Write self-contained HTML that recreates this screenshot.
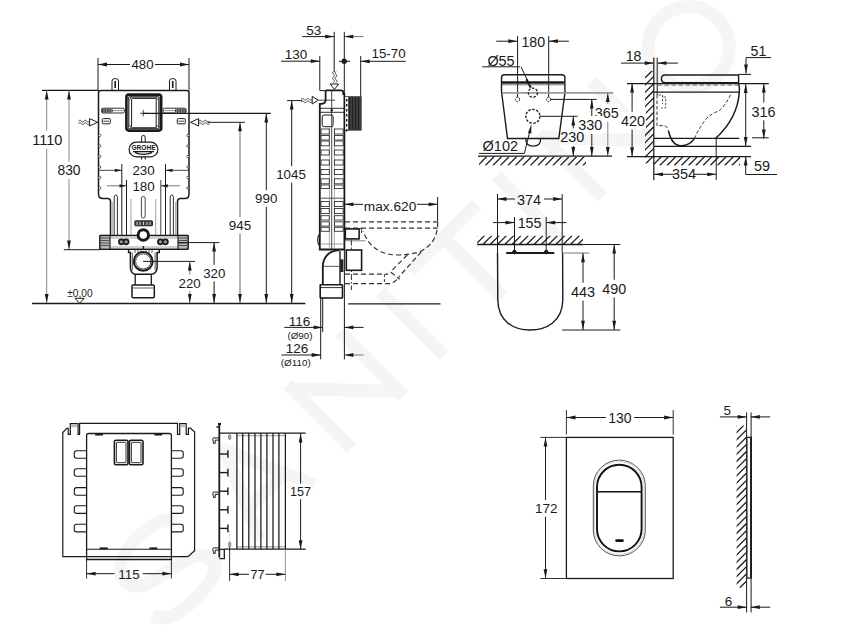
<!DOCTYPE html>
<html><head><meta charset="utf-8"><style>
html,body{margin:0;padding:0;background:#fff;}
svg{display:block;}
text{font-family:"Liberation Sans",sans-serif;}
</style></head><body>
<svg width="851" height="630" viewBox="0 0 851 630">
<rect width="851" height="630" fill="#fff"/>
<g transform="translate(720.6,79) rotate(-45)" fill="none" stroke="#f5f5f5" stroke-width="13">
<circle cx="0" cy="-45" r="40.5"/>
<path d="M-167,0 L-167,-90 M-167,-84 L-93,-6 M-93,0 L-93,-90"/>
<path d="M-227,0 L-227,-90"/>
<path d="M-308,0 L-308,-84 M-356,-84 L-261,-84"/>
<path d="M-391,0 L-391,-90"/>
<path d="M-522,0 L-522,-90 M-522,-84 L-448,-6 M-448,0 L-448,-90"/>
<path d="M-652,0 L-613,-88 L-574,0 M-638,-30 L-588,-30" stroke-linejoin="round"/>
<path d="M-698,-72 C-705,-86 -720,-88 -738,-88 C-760,-88 -776,-80 -776,-66 C-776,-50 -760,-47 -740,-43 C-718,-39 -700,-34 -700,-20 C-700,-6 -718,-4 -740,-4 C-760,-4 -775,-8 -782,-22"/>
</g>
<line x1="98" y1="58" x2="98" y2="90.5" stroke="#1a1a1a" stroke-width="1" />
<line x1="189" y1="58" x2="189" y2="90.5" stroke="#1a1a1a" stroke-width="1" />
<line x1="98" y1="64.5" x2="130" y2="64.5" stroke="#1a1a1a" stroke-width="1" />
<line x1="155" y1="64.5" x2="189" y2="64.5" stroke="#1a1a1a" stroke-width="1" />
<polygon points="98,64.5 107,62.6 107,66.4" fill="#1a1a1a" stroke="none" stroke-width="1"/>
<polygon points="189,64.5 180,62.6 180,66.4" fill="#1a1a1a" stroke="none" stroke-width="1"/>
<text x="142.5" y="69.46" font-size="13.3" text-anchor="middle" fill="#1a1a1a" >480</text>
<path d="M112,90.5 L112,81 Q112,78.5 115.2,78.5 Q118.5,78.5 118.5,81 L118.5,90.5" stroke="#1a1a1a" stroke-width="1" fill="none" />
<line x1="115.2" y1="81" x2="115.2" y2="88" stroke="#1a1a1a" stroke-width="1.6" />
<path d="M169.5,90.5 L169.5,81 Q169.5,78.5 172.7,78.5 Q176.0,78.5 176.0,81 L176.0,90.5" stroke="#1a1a1a" stroke-width="1" fill="none" />
<line x1="172.7" y1="81" x2="172.7" y2="88" stroke="#1a1a1a" stroke-width="1.6" />
<path d="M98.5,92.5 Q98.5,90.4 101,90.4 L186.5,90.4 Q189,90.4 189,92.5 L189,194 Q189,198.5 185,198.5 L180.5,198.5 Q177.5,198.5 177.5,201.5 L177.5,235.5 M98.5,92.5 L98.5,194 Q98.5,198.5 103,198.5 L107.5,198.5 Q110.5,198.5 110.5,201.5 L110.5,235.5" stroke="#1a1a1a" stroke-width="1.5" fill="none" />
<circle cx="99.6" cy="135.5" r="1.2" stroke="#1a1a1a" stroke-width="0.7" fill="#fff"/>
<circle cx="188" cy="135.5" r="1.2" stroke="#1a1a1a" stroke-width="0.7" fill="#fff"/>
<circle cx="99.6" cy="146" r="1.2" stroke="#1a1a1a" stroke-width="0.7" fill="#fff"/>
<circle cx="188" cy="146" r="1.2" stroke="#1a1a1a" stroke-width="0.7" fill="#fff"/>
<circle cx="99.6" cy="156.5" r="1.2" stroke="#1a1a1a" stroke-width="0.7" fill="#fff"/>
<circle cx="188" cy="156.5" r="1.2" stroke="#1a1a1a" stroke-width="0.7" fill="#fff"/>
<circle cx="99.6" cy="167" r="1.2" stroke="#1a1a1a" stroke-width="0.7" fill="#fff"/>
<circle cx="188" cy="167" r="1.2" stroke="#1a1a1a" stroke-width="0.7" fill="#fff"/>
<circle cx="99.6" cy="177.5" r="1.2" stroke="#1a1a1a" stroke-width="0.7" fill="#fff"/>
<circle cx="188" cy="177.5" r="1.2" stroke="#1a1a1a" stroke-width="0.7" fill="#fff"/>
<circle cx="99.6" cy="188" r="1.2" stroke="#1a1a1a" stroke-width="0.7" fill="#fff"/>
<circle cx="188" cy="188" r="1.2" stroke="#1a1a1a" stroke-width="0.7" fill="#fff"/>
<line x1="42" y1="90.4" x2="98.5" y2="90.4" stroke="#1a1a1a" stroke-width="1.3" />
<rect x="126.4" y="94.6" width="34.8" height="36" rx="2.5" stroke="#1a1a1a" stroke-width="2.6" fill="none" />
<rect x="128.6" y="96.8" width="30.4" height="31.6" rx="2" stroke="#555" stroke-width="1.8" fill="none" />
<rect x="131.6" y="98.4" width="24.6" height="29.4" rx="1" stroke="#1a1a1a" stroke-width="1" fill="#fff" />
<circle cx="129.6" cy="98" r="1.3" stroke="#1a1a1a" stroke-width="0.8" fill="#fff"/>
<circle cx="157.4" cy="98" r="1.3" stroke="#1a1a1a" stroke-width="0.8" fill="#fff"/>
<circle cx="129.6" cy="127.2" r="1.3" stroke="#1a1a1a" stroke-width="0.8" fill="#fff"/>
<circle cx="157.4" cy="127.2" r="1.3" stroke="#1a1a1a" stroke-width="0.8" fill="#fff"/>
<line x1="140" y1="113.3" x2="146.5" y2="113.3" stroke="#1a1a1a" stroke-width="0.8" />
<line x1="143.2" y1="110" x2="143.2" y2="116.5" stroke="#1a1a1a" stroke-width="0.8" />
<line x1="143.2" y1="113.4" x2="270.8" y2="113.4" stroke="#1a1a1a" stroke-width="1.2" />
<rect x="101.5" y="108.2" width="22.900000000000006" height="4.8" rx="1.5" stroke="#1a1a1a" stroke-width="0.9" fill="none" />
<line x1="102.5" y1="110.6" x2="123.4" y2="110.6" stroke="#666" stroke-width="0.7" />
<rect x="163.2" y="108.2" width="22.900000000000006" height="4.8" rx="1.5" stroke="#1a1a1a" stroke-width="0.9" fill="none" />
<line x1="164.2" y1="110.6" x2="185.1" y2="110.6" stroke="#666" stroke-width="0.7" />
<rect x="101.8" y="108.4" width="11" height="4.4" rx="1.5" stroke="#1a1a1a" stroke-width="0" fill="#4a4a4a" />
<rect x="175" y="108.4" width="11" height="4.4" rx="1.5" stroke="#1a1a1a" stroke-width="0" fill="#4a4a4a" />
<line x1="104" y1="108.5" x2="104" y2="112.7" stroke="#bbb" stroke-width="0.6" />
<line x1="106.5" y1="108.5" x2="106.5" y2="112.7" stroke="#bbb" stroke-width="0.6" />
<line x1="109" y1="108.5" x2="109" y2="112.7" stroke="#bbb" stroke-width="0.6" />
<line x1="111.5" y1="108.5" x2="111.5" y2="112.7" stroke="#bbb" stroke-width="0.6" />
<line x1="176.5" y1="108.5" x2="176.5" y2="112.7" stroke="#bbb" stroke-width="0.6" />
<line x1="179" y1="108.5" x2="179" y2="112.7" stroke="#bbb" stroke-width="0.6" />
<line x1="181.5" y1="108.5" x2="181.5" y2="112.7" stroke="#bbb" stroke-width="0.6" />
<line x1="184" y1="108.5" x2="184" y2="112.7" stroke="#bbb" stroke-width="0.6" />
<rect x="102.3" y="118.6" width="8" height="5.2" rx="1" stroke="#1a1a1a" stroke-width="1" fill="none" />
<line x1="103.5" y1="121.2" x2="109" y2="121.2" stroke="#1a1a1a" stroke-width="0.8" />
<rect x="177.3" y="118.6" width="8" height="5.2" rx="1" stroke="#1a1a1a" stroke-width="1" fill="none" />
<line x1="178.5" y1="121.2" x2="184" y2="121.2" stroke="#1a1a1a" stroke-width="0.8" />
<polygon points="97.6,122.3 89.6,118.6 89.6,126" fill="#fff" stroke="#1a1a1a" stroke-width="1"/>
<path d="M78.5,123.6 c2.5,-3 3,3 5.5,0 c2.5,-3 3,3 5.5,0 M78.5,121.1 c2.5,-3 3,3 5.5,0 c2.5,-3 3,3 5.5,0" stroke="#1a1a1a" stroke-width="0.8" fill="none" />
<polygon points="190.6,122.3 198.6,118.6 198.6,126" fill="#fff" stroke="#1a1a1a" stroke-width="1"/>
<path d="M198.6,123.6 c2.5,-3 3,3 5.5,0 c2.5,-3 3,3 5.5,0 M198.6,121.1 c2.5,-3 3,3 5.5,0 c2.5,-3 3,3 5.5,0" stroke="#1a1a1a" stroke-width="0.8" fill="none" />
<line x1="207.5" y1="122.3" x2="244.8" y2="122.3" stroke="#1a1a1a" stroke-width="1" />
<path d="M141.6,142.3 L141.6,137.2 Q141.6,135.4 143.4,135.4 Q145.2,135.4 145.2,137.2 L145.2,142.3" stroke="#1a1a1a" stroke-width="1" fill="none" />
<rect x="129.1" y="142.1" width="28.8" height="14.7" rx="7.3" stroke="#1a1a1a" stroke-width="1.2" fill="#fff" />
<text x="143.5" y="150.1" font-size="6.7" font-weight="bold" text-anchor="middle" fill="#111" textLength="24" lengthAdjust="spacingAndGlyphs">GROHE</text>
<path d="M133,151.6 L154,151.6 M135,152.6 Q143.5,156 152,152.6" stroke="#1a1a1a" stroke-width="1.2" fill="none" />
<line x1="141.6" y1="156.8" x2="141.6" y2="159.6" stroke="#1a1a1a" stroke-width="1" />
<line x1="145.2" y1="156.8" x2="145.2" y2="159.6" stroke="#1a1a1a" stroke-width="1" />
<line x1="98.5" y1="170.3" x2="121.8" y2="170.3" stroke="#1a1a1a" stroke-width="0.8" />
<polygon points="121.8,170.3 114.8,168.70000000000002 114.8,171.9" fill="#1a1a1a" stroke="none" stroke-width="1"/>
<line x1="165.5" y1="170.3" x2="189" y2="170.3" stroke="#1a1a1a" stroke-width="0.8" />
<polygon points="165.5,170.3 172.5,168.70000000000002 172.5,171.9" fill="#1a1a1a" stroke="none" stroke-width="1"/>
<line x1="121.8" y1="164" x2="121.8" y2="235.5" stroke="#1a1a1a" stroke-width="1" />
<line x1="165.5" y1="164" x2="165.5" y2="235.5" stroke="#1a1a1a" stroke-width="1" />
<text x="143.6" y="175.30" font-size="13.4" text-anchor="middle" fill="#1a1a1a" >230</text>
<line x1="107" y1="185.8" x2="126.5" y2="185.8" stroke="#555" stroke-width="0.8" />
<polygon points="126.5,185.8 119.5,184.20000000000002 119.5,187.4" fill="#1a1a1a" stroke="none" stroke-width="1"/>
<line x1="160.8" y1="185.8" x2="180" y2="185.8" stroke="#555" stroke-width="0.8" />
<polygon points="160.8,185.8 167.8,184.20000000000002 167.8,187.4" fill="#1a1a1a" stroke="none" stroke-width="1"/>
<line x1="126.5" y1="180" x2="126.5" y2="235.5" stroke="#1a1a1a" stroke-width="1" />
<line x1="160.8" y1="180" x2="160.8" y2="235.5" stroke="#444" stroke-width="1" />
<text x="143.6" y="190.80" font-size="13.4" text-anchor="middle" fill="#1a1a1a" >180</text>
<path d="M114.2,235.5 L114.2,197 Q114.2,195 115.8,195 Q117.4,195 117.4,197 L117.4,235.5" stroke="#1a1a1a" stroke-width="0.9" fill="none" />
<path d="M170.2,235.5 L170.2,197 Q170.2,195 171.79999999999998,195 Q173.39999999999998,195 173.39999999999998,197 L173.39999999999998,235.5" stroke="#1a1a1a" stroke-width="0.9" fill="none" />
<line x1="131" y1="199" x2="131" y2="235.5" stroke="#777" stroke-width="0.7" />
<line x1="155.7" y1="199" x2="155.7" y2="235.5" stroke="#777" stroke-width="0.7" />
<line x1="112.3" y1="202" x2="112.3" y2="235" stroke="#777" stroke-width="0.6" />
<line x1="175.5" y1="202" x2="175.5" y2="235" stroke="#777" stroke-width="0.6" />
<rect x="141.4" y="196.5" width="3.8" height="21.5" rx="1.9" stroke="#1a1a1a" stroke-width="0.8" fill="none" />
<rect x="134.8" y="220.8" width="17.7" height="5" rx="0.8" stroke="#1a1a1a" stroke-width="0.9" fill="#444" />
<line x1="137" y1="221.8" x2="137" y2="225" stroke="#ddd" stroke-width="0.9" />
<line x1="140" y1="221.8" x2="140" y2="225" stroke="#ddd" stroke-width="0.9" />
<line x1="143.5" y1="221.8" x2="143.5" y2="225" stroke="#ddd" stroke-width="0.9" />
<line x1="147" y1="221.8" x2="147" y2="225" stroke="#ddd" stroke-width="0.9" />
<line x1="150" y1="221.8" x2="150" y2="225" stroke="#ddd" stroke-width="0.9" />
<rect x="100" y="235.5" width="88" height="13.7" rx="1" stroke="#1a1a1a" stroke-width="1.6" fill="#fff" />
<rect x="100" y="235.5" width="10" height="13.7" rx="0" stroke="#1a1a1a" stroke-width="1.2" fill="#b8b8b8" />
<rect x="178" y="235.5" width="10" height="13.7" rx="0" stroke="#1a1a1a" stroke-width="1.2" fill="#b8b8b8" />
<line x1="101" y1="238" x2="109" y2="238" stroke="#333" stroke-width="0.8" />
<line x1="179" y1="238" x2="187" y2="238" stroke="#333" stroke-width="0.8" />
<line x1="101" y1="240.5" x2="109" y2="240.5" stroke="#333" stroke-width="0.8" />
<line x1="179" y1="240.5" x2="187" y2="240.5" stroke="#333" stroke-width="0.8" />
<line x1="101" y1="243" x2="109" y2="243" stroke="#333" stroke-width="0.8" />
<line x1="179" y1="243" x2="187" y2="243" stroke="#333" stroke-width="0.8" />
<line x1="101" y1="245.5" x2="109" y2="245.5" stroke="#333" stroke-width="0.8" />
<line x1="179" y1="245.5" x2="187" y2="245.5" stroke="#333" stroke-width="0.8" />
<line x1="110" y1="238" x2="178" y2="238" stroke="#666" stroke-width="0.6" />
<line x1="110" y1="247" x2="178" y2="247" stroke="#666" stroke-width="0.6" />
<circle cx="121.4" cy="241.8" r="2.5" stroke="#1a1a1a" stroke-width="1.7" fill="#999"/>
<circle cx="126.1" cy="241.8" r="2.5" stroke="#1a1a1a" stroke-width="1.7" fill="#999"/>
<circle cx="160.4" cy="241.8" r="2.5" stroke="#1a1a1a" stroke-width="1.7" fill="#999"/>
<circle cx="165.4" cy="241.8" r="2.5" stroke="#1a1a1a" stroke-width="1.7" fill="#999"/>
<circle cx="143.3" cy="235" r="5.2" stroke="#1a1a1a" stroke-width="3" fill="#fff"/>
<path d="M128.6,249.2 L128.6,252.5 L130.4,252.5 L130.4,268 Q131,274 136,274.3 L151,274.3 Q156.5,274 157.1,268 L157.1,252.5 L159.3,252.5 L159.3,249.2" stroke="#1a1a1a" stroke-width="1.5" fill="none" />
<line x1="132.4" y1="252.5" x2="132.4" y2="270" stroke="#1a1a1a" stroke-width="0.7" />
<line x1="155.1" y1="252.5" x2="155.1" y2="270" stroke="#1a1a1a" stroke-width="0.7" />
<line x1="135" y1="249.5" x2="135" y2="253" stroke="#1a1a1a" stroke-width="0.7" />
<line x1="138" y1="249.5" x2="138" y2="253" stroke="#1a1a1a" stroke-width="0.7" />
<line x1="141" y1="249.5" x2="141" y2="253" stroke="#1a1a1a" stroke-width="0.7" />
<line x1="146" y1="249.5" x2="146" y2="253" stroke="#1a1a1a" stroke-width="0.7" />
<line x1="149" y1="249.5" x2="149" y2="253" stroke="#1a1a1a" stroke-width="0.7" />
<line x1="152" y1="249.5" x2="152" y2="253" stroke="#1a1a1a" stroke-width="0.7" />
<line x1="143.4" y1="246" x2="143.4" y2="250" stroke="#1a1a1a" stroke-width="1.4" />
<circle cx="143.2" cy="261.4" r="9.4" stroke="#1a1a1a" stroke-width="2" fill="#fff"/>
<circle cx="143.2" cy="261.4" r="7.6" stroke="#1a1a1a" stroke-width="0.8" fill="none"/>
<line x1="143.2" y1="261.4" x2="195" y2="261.4" stroke="#1a1a1a" stroke-width="1" />
<line x1="135.2" y1="274" x2="135.2" y2="285" stroke="#1a1a1a" stroke-width="1.3" />
<line x1="151.3" y1="274" x2="151.3" y2="285" stroke="#1a1a1a" stroke-width="1.3" />
<rect x="132" y="285" width="22.3" height="12.8" rx="1.2" stroke="#1a1a1a" stroke-width="1.5" fill="#fff" />
<line x1="133" y1="288" x2="153" y2="288" stroke="#1a1a1a" stroke-width="0.7" />
<line x1="46.7" y1="90.6" x2="46.7" y2="303" stroke="#8a8a8a" stroke-width="1" />
<polygon points="46.7,90.6 44.800000000000004,99.6 48.6,99.6" fill="#1a1a1a" stroke="none" stroke-width="1"/>
<polygon points="46.7,303 44.800000000000004,294 48.6,294" fill="#1a1a1a" stroke="none" stroke-width="1"/>
<rect x="30.175999999999995" y="130.81" width="34.248000000000005" height="17.98" fill="#fff"/>
<text x="47.3" y="144.99" font-size="14.5" text-anchor="middle" fill="#1a1a1a" >1110</text>
<line x1="69" y1="90.6" x2="69" y2="249.6" stroke="#8a8a8a" stroke-width="1" />
<polygon points="69,90.6 67.1,99.6 70.9,99.6" fill="#1a1a1a" stroke="none" stroke-width="1"/>
<polygon points="69,249.6 67.1,240.6 70.9,240.6" fill="#1a1a1a" stroke="none" stroke-width="1"/>
<rect x="56.4908" y="161.744" width="25.018400000000003" height="17.112000000000002" fill="#fff"/>
<text x="69" y="175.24" font-size="13.8" text-anchor="middle" fill="#1a1a1a" >830</text>
<line x1="63.8" y1="249.7" x2="100" y2="249.7" stroke="#1a1a1a" stroke-width="1" />
<line x1="32" y1="303.5" x2="305.4" y2="303.5" stroke="#1a1a1a" stroke-width="1.3" />
<text x="80" y="297.25" font-size="10.2" text-anchor="middle" fill="#1a1a1a" >±0,00</text>
<path d="M75,298.3 L84.2,298.3 L79.6,303.3 Z" stroke="#1a1a1a" stroke-width="1" fill="#fff" />
<line x1="178" y1="242.6" x2="219.3" y2="242.6" stroke="#1a1a1a" stroke-width="1" />
<line x1="214.1" y1="242.4" x2="214.1" y2="303" stroke="#1a1a1a" stroke-width="1" />
<polygon points="214.1,242.4 212.2,251.4 216.0,251.4" fill="#1a1a1a" stroke="none" stroke-width="1"/>
<polygon points="214.1,303 212.2,294 216.0,294" fill="#1a1a1a" stroke="none" stroke-width="1"/>
<rect x="202.20780000000002" y="264.85400000000004" width="24.184400000000004" height="16.492" fill="#fff"/>
<text x="214.3" y="277.86" font-size="13.3" text-anchor="middle" fill="#1a1a1a" >320</text>
<line x1="189.8" y1="261.4" x2="189.8" y2="303" stroke="#777" stroke-width="1" />
<polygon points="189.8,261.4 187.9,270.4 191.70000000000002,270.4" fill="#1a1a1a" stroke="none" stroke-width="1"/>
<polygon points="189.8,303 187.9,294 191.70000000000002,294" fill="#1a1a1a" stroke="none" stroke-width="1"/>
<rect x="177.5078" y="274.55400000000003" width="24.184400000000004" height="16.492" fill="#fff"/>
<text x="189.6" y="287.56" font-size="13.3" text-anchor="middle" fill="#1a1a1a" >220</text>
<line x1="240" y1="122.3" x2="240" y2="303" stroke="#666" stroke-width="1" />
<polygon points="240,122.3 238.1,131.3 241.9,131.3" fill="#1a1a1a" stroke="none" stroke-width="1"/>
<polygon points="240,303 238.1,294 241.9,294" fill="#1a1a1a" stroke="none" stroke-width="1"/>
<rect x="227.8244" y="216.99200000000002" width="24.351200000000002" height="16.616" fill="#fff"/>
<text x="240" y="230.10" font-size="13.4" text-anchor="middle" fill="#1a1a1a" >945</text>
<line x1="266.3" y1="113.4" x2="266.3" y2="303" stroke="#1a1a1a" stroke-width="1" />
<polygon points="266.3,113.4 264.40000000000003,122.4 268.2,122.4" fill="#1a1a1a" stroke="none" stroke-width="1"/>
<polygon points="266.3,303 264.40000000000003,294 268.2,294" fill="#1a1a1a" stroke="none" stroke-width="1"/>
<rect x="254.1078" y="190.254" width="24.184400000000004" height="16.492" fill="#fff"/>
<text x="266.2" y="203.26" font-size="13.3" text-anchor="middle" fill="#1a1a1a" >990</text>
<line x1="291.7" y1="100.6" x2="291.7" y2="303" stroke="#1a1a1a" stroke-width="1" />
<polygon points="291.7,100.6 289.8,109.6 293.59999999999997,109.6" fill="#1a1a1a" stroke="none" stroke-width="1"/>
<polygon points="291.7,303 289.8,294 293.59999999999997,294" fill="#1a1a1a" stroke="none" stroke-width="1"/>
<rect x="275.2104" y="166.154" width="31.579200000000004" height="16.492" fill="#fff"/>
<text x="291" y="179.16" font-size="13.3" text-anchor="middle" fill="#1a1a1a" >1045</text>
<text x="313.8" y="35.23" font-size="13.5" text-anchor="middle" fill="#1a1a1a" >53</text>
<line x1="302.4" y1="36.6" x2="334.2" y2="36.6" stroke="#1a1a1a" stroke-width="1" />
<polygon points="334.2,36.6 325.2,34.7 325.2,38.5" fill="#1a1a1a" stroke="none" stroke-width="1"/>
<line x1="344.3" y1="36.6" x2="363.5" y2="36.6" stroke="#777" stroke-width="1" />
<polygon points="344.3,36.6 353.3,34.7 353.3,38.5" fill="#1a1a1a" stroke="none" stroke-width="1"/>
<line x1="334.2" y1="31.8" x2="334.2" y2="72" stroke="#1a1a1a" stroke-width="1" />
<line x1="344.3" y1="31.8" x2="344.3" y2="94" stroke="#1a1a1a" stroke-width="1" />
<text x="296" y="59.33" font-size="13.5" text-anchor="middle" fill="#1a1a1a" >130</text>
<line x1="281" y1="61.2" x2="319.8" y2="61.2" stroke="#1a1a1a" stroke-width="1" />
<polygon points="319.8,61.2 310.8,59.300000000000004 310.8,63.1" fill="#1a1a1a" stroke="none" stroke-width="1"/>
<line x1="319.8" y1="56" x2="319.8" y2="90.6" stroke="#1a1a1a" stroke-width="1" />
<line x1="319.8" y1="90.6" x2="325.6" y2="90.6" stroke="#1a1a1a" stroke-width="1" />
<circle cx="344.2" cy="61.3" r="2.7" stroke="#1a1a1a" stroke-width="0" fill="#1a1a1a"/>
<line x1="339" y1="61.3" x2="350" y2="61.3" stroke="#1a1a1a" stroke-width="1" />
<text x="388.6" y="58.46" font-size="13.3" text-anchor="middle" fill="#1a1a1a" >15-70</text>
<line x1="360.7" y1="56.1" x2="360.7" y2="96.5" stroke="#1a1a1a" stroke-width="1" />
<line x1="360.7" y1="61.3" x2="405.8" y2="61.3" stroke="#1a1a1a" stroke-width="1" />
<polygon points="360.7,61.3 369.7,59.4 369.7,63.199999999999996" fill="#1a1a1a" stroke="none" stroke-width="1"/>
<path d="M333.5,71.5 c-3,2.5 3,3 0,5.5 c-3,2.5 3,3 0,5.5 M336,71.5 c-3,2.5 3,3 0,5.5 c-3,2.5 3,3 0,5.5" stroke="#1a1a1a" stroke-width="0.8" fill="none" />
<polygon points="330.2,84 338.6,84 334.4,89.4" fill="#fff" stroke="#1a1a1a" stroke-width="1"/>
<line x1="287" y1="100.6" x2="302" y2="100.6" stroke="#1a1a1a" stroke-width="1" />
<path d="M301,101.8 c2.5,-3 3,3 5.5,0 c2.5,-3 3,3 5.5,0 M301,99.3 c2.5,-3 3,3 5.5,0 c2.5,-3 3,3 5.5,0" stroke="#1a1a1a" stroke-width="0.8" fill="none" />
<polygon points="318.2,100.2 312.2,96.4 312.2,104" fill="#fff" stroke="#1a1a1a" stroke-width="1"/>
<line x1="318.2" y1="100.2" x2="335" y2="100.2" stroke="#1a1a1a" stroke-width="0.8" />
<path d="M325.6,90.6 L325.6,100 Q325.6,103.9 321,103.9 L319.8,103.9 L319.8,249.5 L344.4,249.5 L344.4,94 L343.3,94 L343.3,92.5 Q343.3,90.3 341,90.3 L325.6,90.3" stroke="#1a1a1a" stroke-width="1.8" fill="none" />
<line x1="331.7" y1="90.5" x2="331.7" y2="249.5" stroke="#1a1a1a" stroke-width="0.8" />
<line x1="320" y1="108.3" x2="344" y2="108.3" stroke="#1a1a1a" stroke-width="0.9" />
<line x1="320" y1="112.3" x2="344" y2="112.3" stroke="#1a1a1a" stroke-width="0.9" />
<circle cx="331.7" cy="110.3" r="1.2" stroke="#1a1a1a" stroke-width="0" fill="#1a1a1a"/>
<rect x="322.2" y="115" width="10.9" height="11.7" rx="2" stroke="#1a1a1a" stroke-width="1" fill="none" />
<line x1="329.4" y1="128" x2="329.4" y2="249" stroke="#777" stroke-width="0.6" />
<line x1="334.4" y1="128" x2="334.4" y2="249" stroke="#777" stroke-width="0.6" />
<rect x="321" y="129" width="8.3" height="5" rx="0" stroke="#333" stroke-width="0.9" fill="none" />
<rect x="334.4" y="129" width="8.8" height="5" rx="0" stroke="#333" stroke-width="0.9" fill="none" />
<rect x="321" y="135.5" width="8.3" height="4.5" rx="0" stroke="#333" stroke-width="0.9" fill="none" />
<rect x="334.4" y="135.5" width="8.8" height="4.5" rx="0" stroke="#333" stroke-width="0.9" fill="none" />
<rect x="321" y="141" width="8.3" height="4.8" rx="0" stroke="#333" stroke-width="0.9" fill="none" />
<rect x="334.4" y="141" width="8.8" height="4.8" rx="0" stroke="#333" stroke-width="0.9" fill="none" />
<rect x="321" y="150" width="8.3" height="5" rx="0" stroke="#333" stroke-width="0.9" fill="none" />
<rect x="334.4" y="150" width="8.8" height="5" rx="0" stroke="#333" stroke-width="0.9" fill="none" />
<rect x="321" y="160" width="8.3" height="5" rx="0" stroke="#333" stroke-width="0.9" fill="none" />
<rect x="334.4" y="160" width="8.8" height="5" rx="0" stroke="#333" stroke-width="0.9" fill="none" />
<rect x="321" y="169.5" width="8.3" height="5" rx="0" stroke="#333" stroke-width="0.9" fill="none" />
<rect x="334.4" y="169.5" width="8.8" height="5" rx="0" stroke="#333" stroke-width="0.9" fill="none" />
<rect x="321" y="178.8" width="8.3" height="5" rx="0" stroke="#333" stroke-width="0.9" fill="none" />
<rect x="334.4" y="178.8" width="8.8" height="5" rx="0" stroke="#333" stroke-width="0.9" fill="none" />
<rect x="321" y="185" width="8.3" height="3.5" rx="0" stroke="#333" stroke-width="0.9" fill="none" />
<rect x="334.4" y="185" width="8.8" height="3.5" rx="0" stroke="#333" stroke-width="0.9" fill="none" />
<rect x="321" y="201.5" width="8.3" height="5" rx="0" stroke="#333" stroke-width="0.9" fill="none" />
<rect x="334.4" y="201.5" width="8.8" height="5" rx="0" stroke="#333" stroke-width="0.9" fill="none" />
<rect x="321" y="208.5" width="8.3" height="5" rx="0" stroke="#333" stroke-width="0.9" fill="none" />
<rect x="334.4" y="208.5" width="8.8" height="5" rx="0" stroke="#333" stroke-width="0.9" fill="none" />
<rect x="321" y="215.7" width="8.3" height="4.3" rx="0" stroke="#333" stroke-width="0.9" fill="none" />
<rect x="334.4" y="215.7" width="8.8" height="4.3" rx="0" stroke="#333" stroke-width="0.9" fill="none" />
<rect x="321" y="221.8" width="8.3" height="4.3" rx="0" stroke="#333" stroke-width="0.9" fill="none" />
<rect x="334.4" y="221.8" width="8.8" height="4.3" rx="0" stroke="#333" stroke-width="0.9" fill="none" />
<rect x="321" y="227.3" width="8.3" height="4" rx="0" stroke="#333" stroke-width="0.9" fill="none" />
<rect x="334.4" y="227.3" width="8.8" height="4" rx="0" stroke="#333" stroke-width="0.9" fill="none" />
<line x1="320" y1="198.2" x2="344" y2="198.2" stroke="#555" stroke-width="1" />
<path d="M320,234.5 Q317.6,234.8 317.8,239.9 Q317.8,245 320,245.3" stroke="#1a1a1a" stroke-width="1.2" fill="none" />
<line x1="320" y1="244" x2="344" y2="244" stroke="#777" stroke-width="0.7" />
<rect x="345" y="96.3" width="16.6" height="34.3" rx="0" stroke="#1a1a1a" stroke-width="0" fill="#222" />
<rect x="345.2" y="97" width="3" height="33" rx="0" stroke="#1a1a1a" stroke-width="0" fill="#fff" />
<line x1="346.7" y1="99" x2="346.7" y2="101.5" stroke="#1a1a1a" stroke-width="1.4" />
<line x1="346.7" y1="104" x2="346.7" y2="106.5" stroke="#1a1a1a" stroke-width="1.4" />
<line x1="346.7" y1="109" x2="346.7" y2="111.5" stroke="#1a1a1a" stroke-width="1.4" />
<line x1="346.7" y1="114" x2="346.7" y2="116.5" stroke="#1a1a1a" stroke-width="1.4" />
<line x1="346.7" y1="119" x2="346.7" y2="121.5" stroke="#1a1a1a" stroke-width="1.4" />
<line x1="346.7" y1="124" x2="346.7" y2="126.5" stroke="#1a1a1a" stroke-width="1.4" />
<line x1="346.7" y1="129" x2="346.7" y2="131.5" stroke="#1a1a1a" stroke-width="1.4" />
<line x1="351" y1="97" x2="351" y2="130" stroke="#888" stroke-width="0.5" />
<line x1="354" y1="97" x2="354" y2="130" stroke="#888" stroke-width="0.5" />
<line x1="357" y1="97" x2="357" y2="130" stroke="#888" stroke-width="0.5" />
<line x1="360" y1="97" x2="360" y2="130" stroke="#888" stroke-width="0.5" />
<line x1="344.4" y1="204.3" x2="363" y2="204.3" stroke="#1a1a1a" stroke-width="1" />
<polygon points="344.4,204.3 353.4,202.4 353.4,206.20000000000002" fill="#1a1a1a" stroke="none" stroke-width="1"/>
<line x1="417" y1="204.3" x2="437.6" y2="204.3" stroke="#1a1a1a" stroke-width="1" />
<polygon points="437.6,204.3 428.6,202.4 428.6,206.20000000000002" fill="#1a1a1a" stroke="none" stroke-width="1"/>
<text x="390" y="210.50" font-size="13.7" text-anchor="middle" fill="#1a1a1a" >max.620</text>
<line x1="437.6" y1="197" x2="437.6" y2="221" stroke="#1a1a1a" stroke-width="1" />
<line x1="345" y1="221.8" x2="437.7" y2="221.8" stroke="#333" stroke-width="1.2" stroke-dasharray="5,3"/>
<line x1="345" y1="228.1" x2="437.7" y2="228.1" stroke="#333" stroke-width="1.2" stroke-dasharray="5,3"/>
<path d="M437.7,221.8 Q438,244 419,252 Q408,255 398,255 Q372,255 363,231" stroke="#333" stroke-width="1.2" fill="none" stroke-dasharray="5,3"/>
<path d="M407.3,255 L390.1,272.2 M421.2,251.9 L399.6,276 M390.8,272.2 L399.6,279.2" stroke="#333" stroke-width="1.2" fill="none" stroke-dasharray="5,3"/>
<line x1="345" y1="274.1" x2="388.2" y2="274.1" stroke="#333" stroke-width="1.2" stroke-dasharray="5,3"/>
<path d="M345,283.6 L390.1,283.6 Q396,282 399.6,276" stroke="#333" stroke-width="1.2" fill="none" stroke-dasharray="5,3"/>
<line x1="384.4" y1="274.1" x2="384.4" y2="283.6" stroke="#333" stroke-width="1" stroke-dasharray="3,2"/>
<line x1="351.4" y1="228" x2="351.4" y2="290" stroke="#333" stroke-width="1" stroke-dasharray="6,2,1.5,2"/>
<rect x="345.3" y="228.9" width="13.8" height="10" rx="0" stroke="#1a1a1a" stroke-width="1.6" fill="#fff" />
<line x1="345" y1="240.8" x2="365.4" y2="240.8" stroke="#666" stroke-width="0.8" />
<rect x="346.3" y="250" width="15.3" height="20.3" rx="0" stroke="#1a1a1a" stroke-width="1.6" fill="#fff" />
<path d="M359.5,228.5 L361.5,228.5 L361.5,233" stroke="#1a1a1a" stroke-width="0.8" fill="none" />
<path d="M339.3,250.2 Q324,251.5 322.8,265.7 L322.8,284.7" stroke="#1a1a1a" stroke-width="1.8" fill="none" />
<path d="M340,251 L340,284.7" stroke="#1a1a1a" stroke-width="1.4" fill="none" />
<rect x="340.2" y="259.3" width="3.2" height="12.7" rx="0" stroke="#1a1a1a" stroke-width="0" fill="#222" />
<line x1="323" y1="266.3" x2="340" y2="266.3" stroke="#444" stroke-width="0.9" />
<rect x="320.2" y="284.7" width="22.3" height="13.3" rx="0.5" stroke="#1a1a1a" stroke-width="1.6" fill="#fff" />
<line x1="321" y1="287.6" x2="342" y2="287.6" stroke="#1a1a1a" stroke-width="0.9" />
<line x1="320.7" y1="297.6" x2="320.7" y2="359.3" stroke="#1a1a1a" stroke-width="1" />
<line x1="322.7" y1="297.6" x2="322.7" y2="332" stroke="#1a1a1a" stroke-width="1" />
<line x1="344.4" y1="249.5" x2="344.4" y2="359.3" stroke="#1a1a1a" stroke-width="1" />
<line x1="348.3" y1="303.8" x2="440.5" y2="303.8" stroke="#1a1a1a" stroke-width="1.3" />
<text x="299.5" y="325.53" font-size="13.5" text-anchor="middle" fill="#1a1a1a" >116</text>
<line x1="284.3" y1="327.4" x2="322.7" y2="327.4" stroke="#1a1a1a" stroke-width="1" />
<polygon points="322.7,327.4 313.7,325.5 313.7,329.29999999999995" fill="#1a1a1a" stroke="none" stroke-width="1"/>
<line x1="344.4" y1="327.4" x2="363.6" y2="327.4" stroke="#1a1a1a" stroke-width="1" />
<polygon points="344.4,327.4 353.4,325.5 353.4,329.29999999999995" fill="#1a1a1a" stroke="none" stroke-width="1"/>
<text x="300" y="338.94" font-size="9.9" text-anchor="middle" fill="#1a1a1a" >(Ø90)</text>
<text x="296.9" y="352.63" font-size="13.5" text-anchor="middle" fill="#1a1a1a" >126</text>
<line x1="281.4" y1="355" x2="320.7" y2="355" stroke="#1a1a1a" stroke-width="1" />
<polygon points="320.7,355 311.7,353.1 311.7,356.9" fill="#1a1a1a" stroke="none" stroke-width="1"/>
<line x1="344.4" y1="355" x2="363.6" y2="355" stroke="#777" stroke-width="1" />
<polygon points="344.4,355 353.4,353.1 353.4,356.9" fill="#1a1a1a" stroke="none" stroke-width="1"/>
<text x="295.7" y="366.34" font-size="9.9" text-anchor="middle" fill="#1a1a1a" >(Ø110)</text>
<text x="533.3" y="46.98" font-size="14.2" text-anchor="middle" fill="#1a1a1a" >180</text>
<line x1="496.2" y1="41.2" x2="517.3" y2="41.2" stroke="#1a1a1a" stroke-width="1" />
<polygon points="517.3,41.2 508.29999999999995,39.300000000000004 508.29999999999995,43.1" fill="#1a1a1a" stroke="none" stroke-width="1"/>
<line x1="548.9" y1="41.2" x2="568.9" y2="41.2" stroke="#1a1a1a" stroke-width="1" />
<polygon points="548.9,41.2 557.9,39.300000000000004 557.9,43.1" fill="#1a1a1a" stroke="none" stroke-width="1"/>
<line x1="517.6" y1="36" x2="517.6" y2="97.2" stroke="#1a1a1a" stroke-width="1" />
<line x1="548.7" y1="36" x2="548.7" y2="97.2" stroke="#1a1a1a" stroke-width="1" />
<text x="501" y="65.66" font-size="14.4" text-anchor="middle" fill="#1a1a1a" >Ø55</text>
<line x1="482.2" y1="66.8" x2="520" y2="66.8" stroke="#1a1a1a" stroke-width="1" />
<line x1="521" y1="66.8" x2="531" y2="88" stroke="#1a1a1a" stroke-width="1" />
<line x1="526.4" y1="79.2" x2="530.6" y2="87.2" stroke="#1a1a1a" stroke-width="2.2" />
<path d="M501.5,90 L501.5,77.5 Q501.5,74.7 504.5,74.7 L562,74.7 Q564.9,74.7 564.9,77.5 L564.9,93 L558.8,138.5 L507.5,138.5 L501.7,93 Z" stroke="#1a1a1a" stroke-width="1.4" fill="none" />
<line x1="502" y1="82.5" x2="564.4" y2="82.5" stroke="#1a1a1a" stroke-width="2.3" />
<line x1="502" y1="84.8" x2="564.4" y2="84.8" stroke="#555" stroke-width="0.8" />
<line x1="502" y1="92.9" x2="564.4" y2="92.9" stroke="#999" stroke-width="1.6" />
<circle cx="532.9" cy="92.7" r="4.6" stroke="#1a1a1a" stroke-width="1.2" fill="none" stroke-dasharray="2.6,1.4"/>
<circle cx="517.5" cy="99.4" r="2.2" stroke="#1a1a1a" stroke-width="1" fill="none" stroke-dasharray="1.6,1"/>
<circle cx="548.6" cy="99.4" r="2.2" stroke="#1a1a1a" stroke-width="1" fill="none" stroke-dasharray="1.6,1"/>
<circle cx="532.9" cy="116.3" r="7" stroke="#1a1a1a" stroke-width="1.3" fill="none" stroke-dasharray="2.6,1.4"/>
<path d="M525.8,138.5 Q525.5,146.2 533.2,146.2 Q540.9,146.2 540.6,138.5" stroke="#1a1a1a" stroke-width="1.3" fill="none" />
<text x="500.3" y="151.29" font-size="14.5" text-anchor="middle" fill="#1a1a1a" >Ø102</text>
<line x1="479" y1="153.4" x2="524.4" y2="153.4" stroke="#1a1a1a" stroke-width="1" />
<line x1="524.4" y1="153.4" x2="530.5" y2="128.5" stroke="#1a1a1a" stroke-width="1" />
<polygon points="531.4,124.2 527.9,133 531.3,133.6" fill="#1a1a1a" stroke="none" stroke-width="1"/>
<line x1="564.4" y1="92.9" x2="613.3" y2="92.9" stroke="#999" stroke-width="1.6" />
<line x1="550.8" y1="99.4" x2="596.7" y2="99.4" stroke="#1a1a1a" stroke-width="1" />
<line x1="540" y1="116.3" x2="578.9" y2="116.3" stroke="#1a1a1a" stroke-width="1" />
<line x1="607.8" y1="93" x2="607.8" y2="156.1" stroke="#888" stroke-width="1" />
<polygon points="607.8,93 605.9,102 609.6999999999999,102" fill="#1a1a1a" stroke="none" stroke-width="1"/>
<polygon points="607.8,156.1 605.9,147.1 609.6999999999999,147.1" fill="#1a1a1a" stroke="none" stroke-width="1"/>
<line x1="591.8" y1="99.5" x2="591.8" y2="156.1" stroke="#1a1a1a" stroke-width="1" />
<polygon points="591.8,99.5 589.9,108.5 593.6999999999999,108.5" fill="#1a1a1a" stroke="none" stroke-width="1"/>
<polygon points="591.8,156.1 589.9,147.1 593.6999999999999,147.1" fill="#1a1a1a" stroke="none" stroke-width="1"/>
<line x1="573.3" y1="116.4" x2="573.3" y2="156.1" stroke="#1a1a1a" stroke-width="1" />
<polygon points="573.3,116.4 571.4,125.4 575.1999999999999,125.4" fill="#1a1a1a" stroke="none" stroke-width="1"/>
<polygon points="573.3,156.1 571.4,147.1 575.1999999999999,147.1" fill="#1a1a1a" stroke="none" stroke-width="1"/>
<rect x="593.6904000000001" y="103.872" width="26.0192" height="17.856" fill="#fff"/>
<text x="606.7" y="117.96" font-size="14.4" text-anchor="middle" fill="#1a1a1a" >365</text>
<rect x="577.2904" y="116.072" width="26.0192" height="17.856" fill="#fff"/>
<text x="590.3" y="130.16" font-size="14.4" text-anchor="middle" fill="#1a1a1a" >330</text>
<rect x="569.2" y="128.272" width="6" height="17.856" fill="#fff"/>
<text x="572.2" y="142.36" font-size="14.4" text-anchor="middle" fill="#1a1a1a" >230</text>
<line x1="478" y1="156.2" x2="612" y2="156.2" stroke="#1a1a1a" stroke-width="1.2" />
<g clip-path="url(#c323)"><clipPath id="c323"><rect x="479" y="156.8" width="107" height="8.799999999999983"/></clipPath>
<line x1="470.2" y1="165.6" x2="479.0" y2="156.8" stroke="#1a1a1a" stroke-width="1.3"/>
<line x1="477.7" y1="165.6" x2="486.5" y2="156.8" stroke="#1a1a1a" stroke-width="1.3"/>
<line x1="485.2" y1="165.6" x2="494.0" y2="156.8" stroke="#1a1a1a" stroke-width="1.3"/>
<line x1="492.7" y1="165.6" x2="501.5" y2="156.8" stroke="#1a1a1a" stroke-width="1.3"/>
<line x1="500.2" y1="165.6" x2="509.0" y2="156.8" stroke="#1a1a1a" stroke-width="1.3"/>
<line x1="507.7" y1="165.6" x2="516.5" y2="156.8" stroke="#1a1a1a" stroke-width="1.3"/>
<line x1="515.2" y1="165.6" x2="524.0" y2="156.8" stroke="#1a1a1a" stroke-width="1.3"/>
<line x1="522.7" y1="165.6" x2="531.5" y2="156.8" stroke="#1a1a1a" stroke-width="1.3"/>
<line x1="530.2" y1="165.6" x2="539.0" y2="156.8" stroke="#1a1a1a" stroke-width="1.3"/>
<line x1="537.7" y1="165.6" x2="546.5" y2="156.8" stroke="#1a1a1a" stroke-width="1.3"/>
<line x1="545.2" y1="165.6" x2="554.0" y2="156.8" stroke="#1a1a1a" stroke-width="1.3"/>
<line x1="552.7" y1="165.6" x2="561.5" y2="156.8" stroke="#1a1a1a" stroke-width="1.3"/>
<line x1="560.2" y1="165.6" x2="569.0" y2="156.8" stroke="#1a1a1a" stroke-width="1.3"/>
<line x1="567.7" y1="165.6" x2="576.5" y2="156.8" stroke="#1a1a1a" stroke-width="1.3"/>
<line x1="575.2" y1="165.6" x2="584.0" y2="156.8" stroke="#1a1a1a" stroke-width="1.3"/>
<line x1="582.7" y1="165.6" x2="591.5" y2="156.8" stroke="#1a1a1a" stroke-width="1.3"/>
<line x1="590.2" y1="165.6" x2="599.0" y2="156.8" stroke="#1a1a1a" stroke-width="1.3"/>
</g>
<line x1="653.8" y1="57.6" x2="653.8" y2="180.2" stroke="#1a1a1a" stroke-width="1.2" />
<line x1="657.2" y1="57.6" x2="657.2" y2="95" stroke="#1a1a1a" stroke-width="1" />
<g clip-path="url(#c344)"><clipPath id="c344"><rect x="645" y="70.7" width="8.799999999999955" height="92.89999999999999"/></clipPath>
<line x1="552.1" y1="163.6" x2="645.0" y2="70.7" stroke="#1a1a1a" stroke-width="1.3"/>
<line x1="559.3" y1="163.6" x2="652.2" y2="70.7" stroke="#1a1a1a" stroke-width="1.3"/>
<line x1="566.5" y1="163.6" x2="659.4" y2="70.7" stroke="#1a1a1a" stroke-width="1.3"/>
<line x1="573.7" y1="163.6" x2="666.6" y2="70.7" stroke="#1a1a1a" stroke-width="1.3"/>
<line x1="580.9" y1="163.6" x2="673.8" y2="70.7" stroke="#1a1a1a" stroke-width="1.3"/>
<line x1="588.1" y1="163.6" x2="681.0" y2="70.7" stroke="#1a1a1a" stroke-width="1.3"/>
<line x1="595.3" y1="163.6" x2="688.2" y2="70.7" stroke="#1a1a1a" stroke-width="1.3"/>
<line x1="602.5" y1="163.6" x2="695.4" y2="70.7" stroke="#1a1a1a" stroke-width="1.3"/>
<line x1="609.7" y1="163.6" x2="702.6" y2="70.7" stroke="#1a1a1a" stroke-width="1.3"/>
<line x1="616.9" y1="163.6" x2="709.8" y2="70.7" stroke="#1a1a1a" stroke-width="1.3"/>
<line x1="624.1" y1="163.6" x2="717.0" y2="70.7" stroke="#1a1a1a" stroke-width="1.3"/>
<line x1="631.3" y1="163.6" x2="724.2" y2="70.7" stroke="#1a1a1a" stroke-width="1.3"/>
<line x1="638.5" y1="163.6" x2="731.4" y2="70.7" stroke="#1a1a1a" stroke-width="1.3"/>
<line x1="645.7" y1="163.6" x2="738.6" y2="70.7" stroke="#1a1a1a" stroke-width="1.3"/>
<line x1="652.9" y1="163.6" x2="745.8" y2="70.7" stroke="#1a1a1a" stroke-width="1.3"/>
<line x1="660.1" y1="163.6" x2="753.0" y2="70.7" stroke="#1a1a1a" stroke-width="1.3"/>
<line x1="667.3" y1="163.6" x2="760.2" y2="70.7" stroke="#1a1a1a" stroke-width="1.3"/>
<line x1="674.5" y1="163.6" x2="767.4" y2="70.7" stroke="#1a1a1a" stroke-width="1.3"/>
<line x1="681.7" y1="163.6" x2="774.6" y2="70.7" stroke="#1a1a1a" stroke-width="1.3"/>
<line x1="688.9" y1="163.6" x2="781.8" y2="70.7" stroke="#1a1a1a" stroke-width="1.3"/>
<line x1="696.1" y1="163.6" x2="789.0" y2="70.7" stroke="#1a1a1a" stroke-width="1.3"/>
<line x1="703.3" y1="163.6" x2="796.2" y2="70.7" stroke="#1a1a1a" stroke-width="1.3"/>
<line x1="710.5" y1="163.6" x2="803.4" y2="70.7" stroke="#1a1a1a" stroke-width="1.3"/>
<line x1="717.7" y1="163.6" x2="810.6" y2="70.7" stroke="#1a1a1a" stroke-width="1.3"/>
<line x1="724.9" y1="163.6" x2="817.8" y2="70.7" stroke="#1a1a1a" stroke-width="1.3"/>
<line x1="732.1" y1="163.6" x2="825.0" y2="70.7" stroke="#1a1a1a" stroke-width="1.3"/>
<line x1="739.3" y1="163.6" x2="832.2" y2="70.7" stroke="#1a1a1a" stroke-width="1.3"/>
<line x1="746.5" y1="163.6" x2="839.4" y2="70.7" stroke="#1a1a1a" stroke-width="1.3"/>
</g>
<text x="633.6" y="61.08" font-size="14.2" text-anchor="middle" fill="#1a1a1a" >18</text>
<line x1="621" y1="63.1" x2="653.8" y2="63.1" stroke="#1a1a1a" stroke-width="1" />
<polygon points="653.8,63.1 644.8,61.2 644.8,65.0" fill="#1a1a1a" stroke="none" stroke-width="1"/>
<line x1="657.4" y1="63.1" x2="678" y2="63.1" stroke="#1a1a1a" stroke-width="1" />
<polygon points="657.4,63.1 666.4,61.2 666.4,65.0" fill="#1a1a1a" stroke="none" stroke-width="1"/>
<text x="758.5" y="56.08" font-size="14.2" text-anchor="middle" fill="#1a1a1a" >51</text>
<line x1="746" y1="57.6" x2="771" y2="57.6" stroke="#1a1a1a" stroke-width="1" />
<line x1="746" y1="57.6" x2="746" y2="73.6" stroke="#1a1a1a" stroke-width="1" />
<polygon points="746,73.6 744.1,64.6 747.9,64.6" fill="#1a1a1a" stroke="none" stroke-width="1"/>
<path d="M665,75 L738.6,75 L738.6,82.6 L665,82.6 Q661.4,82.6 661.4,78.8 Q661.4,75 665,75 Z" stroke="#1a1a1a" stroke-width="1.4" fill="none" />
<line x1="738.6" y1="74.4" x2="751" y2="74.4" stroke="#1a1a1a" stroke-width="1" />
<line x1="627" y1="83.6" x2="768.8" y2="83.6" stroke="#1a1a1a" stroke-width="1.3" />
<line x1="657.5" y1="85.1" x2="738" y2="85.1" stroke="#666" stroke-width="1" stroke-dasharray="4.5,2.5"/>
<line x1="654" y1="92.1" x2="739" y2="92.1" stroke="#1a1a1a" stroke-width="1.4" />
<path d="M738.6,83.6 Q739.8,88 739.3,92 C738,112 728,127 715.7,138.3" stroke="#1a1a1a" stroke-width="1.5" fill="none" />
<line x1="654" y1="138.3" x2="739.3" y2="138.3" stroke="#1a1a1a" stroke-width="1.2" />
<line x1="752" y1="137.8" x2="768.8" y2="137.8" stroke="#1a1a1a" stroke-width="1" />
<path d="M668.5,131 Q672,146 681.4,145.7 Q690,145.5 694.3,138.6" stroke="#1a1a1a" stroke-width="1.5" fill="none" />
<line x1="654" y1="146.3" x2="751" y2="146.3" stroke="#1a1a1a" stroke-width="1.2" />
<path d="M694.3,138.6 Q699,128 706,119 Q712,113 719,111 Q726,105 731.4,92.9" stroke="#333" stroke-width="1" fill="none" stroke-dasharray="3.5,2"/>
<path d="M657,95 L657,125.7 L664,125.7 Q667.5,126 668.5,131" stroke="#333" stroke-width="1" fill="none" stroke-dasharray="3.5,2"/>
<path d="M658.5,95 L662.5,95 L662.5,104 M663.5,97 L665.7,97 L665.7,108 L661,108" stroke="#444" stroke-width="0.9" fill="none" stroke-dasharray="2.5,1.5"/>
<line x1="716.2" y1="138.6" x2="716.2" y2="180" stroke="#1a1a1a" stroke-width="1" />
<line x1="627" y1="156.6" x2="751" y2="156.6" stroke="#1a1a1a" stroke-width="1.3" />
<g clip-path="url(#c398)"><clipPath id="c398"><rect x="654" y="156.9" width="86" height="8.599999999999994"/></clipPath>
<line x1="645.4" y1="165.5" x2="654.0" y2="156.9" stroke="#1a1a1a" stroke-width="1.3"/>
<line x1="652.6" y1="165.5" x2="661.2" y2="156.9" stroke="#1a1a1a" stroke-width="1.3"/>
<line x1="659.8" y1="165.5" x2="668.4" y2="156.9" stroke="#1a1a1a" stroke-width="1.3"/>
<line x1="667.0" y1="165.5" x2="675.6" y2="156.9" stroke="#1a1a1a" stroke-width="1.3"/>
<line x1="674.2" y1="165.5" x2="682.8" y2="156.9" stroke="#1a1a1a" stroke-width="1.3"/>
<line x1="681.4" y1="165.5" x2="690.0" y2="156.9" stroke="#1a1a1a" stroke-width="1.3"/>
<line x1="688.6" y1="165.5" x2="697.2" y2="156.9" stroke="#1a1a1a" stroke-width="1.3"/>
<line x1="695.8" y1="165.5" x2="704.4" y2="156.9" stroke="#1a1a1a" stroke-width="1.3"/>
<line x1="703.0" y1="165.5" x2="711.6" y2="156.9" stroke="#1a1a1a" stroke-width="1.3"/>
<line x1="710.2" y1="165.5" x2="718.8" y2="156.9" stroke="#1a1a1a" stroke-width="1.3"/>
<line x1="717.4" y1="165.5" x2="726.0" y2="156.9" stroke="#1a1a1a" stroke-width="1.3"/>
<line x1="724.6" y1="165.5" x2="733.2" y2="156.9" stroke="#1a1a1a" stroke-width="1.3"/>
<line x1="731.8" y1="165.5" x2="740.4" y2="156.9" stroke="#1a1a1a" stroke-width="1.3"/>
<line x1="739.0" y1="165.5" x2="747.6" y2="156.9" stroke="#1a1a1a" stroke-width="1.3"/>
<line x1="746.2" y1="165.5" x2="754.8" y2="156.9" stroke="#1a1a1a" stroke-width="1.3"/>
</g>
<line x1="632.1" y1="83.4" x2="632.1" y2="156.3" stroke="#1a1a1a" stroke-width="1" />
<polygon points="632.1,83.4 630.2,92.4 634.0,92.4" fill="#1a1a1a" stroke="none" stroke-width="1"/>
<polygon points="632.1,156.3 630.2,147.3 634.0,147.3" fill="#1a1a1a" stroke="none" stroke-width="1"/>
<rect x="619.8904" y="111.772" width="26.0192" height="17.856" fill="#fff"/>
<text x="632.9" y="125.86" font-size="14.4" text-anchor="middle" fill="#1a1a1a" >420</text>
<line x1="763.8" y1="83.4" x2="763.8" y2="138.5" stroke="#1a1a1a" stroke-width="1" />
<polygon points="763.8,83.4 761.9,92.4 765.6999999999999,92.4" fill="#1a1a1a" stroke="none" stroke-width="1"/>
<polygon points="763.8,138.5 761.9,129.5 765.6999999999999,129.5" fill="#1a1a1a" stroke="none" stroke-width="1"/>
<rect x="750.4904" y="102.47200000000001" width="26.0192" height="17.856" fill="#fff"/>
<text x="763.5" y="116.56" font-size="14.4" text-anchor="middle" fill="#1a1a1a" >316</text>
<line x1="745.7" y1="84" x2="745.7" y2="146" stroke="#1a1a1a" stroke-width="1" />
<polygon points="745.7,84 743.8000000000001,93 747.6,93" fill="#1a1a1a" stroke="none" stroke-width="1"/>
<polygon points="745.7,146 743.8000000000001,137 747.6,137" fill="#1a1a1a" stroke="none" stroke-width="1"/>
<line x1="745.7" y1="156.6" x2="745.7" y2="174.5" stroke="#1a1a1a" stroke-width="1" />
<polygon points="745.7,156.6 743.8000000000001,165.6 747.6,165.6" fill="#1a1a1a" stroke="none" stroke-width="1"/>
<text x="762" y="171.16" font-size="14.4" text-anchor="middle" fill="#1a1a1a" >59</text>
<line x1="745.7" y1="174.5" x2="777" y2="174.5" stroke="#1a1a1a" stroke-width="1" />
<line x1="654" y1="174.3" x2="675" y2="174.3" stroke="#1a1a1a" stroke-width="1" />
<polygon points="654,174.3 663,172.4 663,176.20000000000002" fill="#1a1a1a" stroke="none" stroke-width="1"/>
<line x1="694" y1="174.3" x2="716.2" y2="174.3" stroke="#1a1a1a" stroke-width="1" />
<polygon points="716.2,174.3 707.2,172.4 707.2,176.20000000000002" fill="#1a1a1a" stroke="none" stroke-width="1"/>
<text x="684" y="179.46" font-size="14.4" text-anchor="middle" fill="#1a1a1a" >354</text>
<text x="529" y="204.99" font-size="14.5" text-anchor="middle" fill="#1a1a1a" >374</text>
<line x1="497.5" y1="194" x2="497.5" y2="253" stroke="#1a1a1a" stroke-width="1" />
<line x1="562.2" y1="194" x2="562.2" y2="253" stroke="#1a1a1a" stroke-width="1" />
<line x1="497.5" y1="199" x2="515" y2="199" stroke="#1a1a1a" stroke-width="1" />
<polygon points="497.5,199 506.5,197.1 506.5,200.9" fill="#1a1a1a" stroke="none" stroke-width="1"/>
<line x1="544" y1="199" x2="562.2" y2="199" stroke="#1a1a1a" stroke-width="1" />
<polygon points="562.2,199 553.2,197.1 553.2,200.9" fill="#1a1a1a" stroke="none" stroke-width="1"/>
<text x="529.6" y="227.82" font-size="14.3" text-anchor="middle" fill="#1a1a1a" >155</text>
<line x1="493" y1="222.6" x2="514.5" y2="222.6" stroke="#1a1a1a" stroke-width="1" />
<polygon points="514.5,222.6 505.5,220.7 505.5,224.5" fill="#1a1a1a" stroke="none" stroke-width="1"/>
<line x1="546.2" y1="222.6" x2="566.5" y2="222.6" stroke="#1a1a1a" stroke-width="1" />
<polygon points="546.2,222.6 555.2,220.7 555.2,224.5" fill="#1a1a1a" stroke="none" stroke-width="1"/>
<line x1="514.5" y1="217" x2="514.5" y2="251" stroke="#1a1a1a" stroke-width="1" />
<line x1="546.2" y1="217" x2="546.2" y2="251" stroke="#1a1a1a" stroke-width="1" />
<line x1="477.2" y1="244.5" x2="583" y2="244.5" stroke="#1a1a1a" stroke-width="1.3" />
<g clip-path="url(#c452)"><clipPath id="c452"><rect x="477.2" y="235.6" width="105.80000000000001" height="8.700000000000017"/></clipPath>
<line x1="468.5" y1="244.3" x2="477.2" y2="235.6" stroke="#1a1a1a" stroke-width="1.3"/>
<line x1="475.8" y1="244.3" x2="484.5" y2="235.6" stroke="#1a1a1a" stroke-width="1.3"/>
<line x1="483.1" y1="244.3" x2="491.8" y2="235.6" stroke="#1a1a1a" stroke-width="1.3"/>
<line x1="490.4" y1="244.3" x2="499.1" y2="235.6" stroke="#1a1a1a" stroke-width="1.3"/>
<line x1="497.7" y1="244.3" x2="506.4" y2="235.6" stroke="#1a1a1a" stroke-width="1.3"/>
<line x1="505.0" y1="244.3" x2="513.7" y2="235.6" stroke="#1a1a1a" stroke-width="1.3"/>
<line x1="512.3" y1="244.3" x2="521.0" y2="235.6" stroke="#1a1a1a" stroke-width="1.3"/>
<line x1="519.6" y1="244.3" x2="528.3" y2="235.6" stroke="#1a1a1a" stroke-width="1.3"/>
<line x1="526.9" y1="244.3" x2="535.6" y2="235.6" stroke="#1a1a1a" stroke-width="1.3"/>
<line x1="534.2" y1="244.3" x2="542.9" y2="235.6" stroke="#1a1a1a" stroke-width="1.3"/>
<line x1="541.5" y1="244.3" x2="550.2" y2="235.6" stroke="#1a1a1a" stroke-width="1.3"/>
<line x1="548.8" y1="244.3" x2="557.5" y2="235.6" stroke="#1a1a1a" stroke-width="1.3"/>
<line x1="556.1" y1="244.3" x2="564.8" y2="235.6" stroke="#1a1a1a" stroke-width="1.3"/>
<line x1="563.4" y1="244.3" x2="572.1" y2="235.6" stroke="#1a1a1a" stroke-width="1.3"/>
<line x1="570.7" y1="244.3" x2="579.4" y2="235.6" stroke="#1a1a1a" stroke-width="1.3"/>
<line x1="578.0" y1="244.3" x2="586.7" y2="235.6" stroke="#1a1a1a" stroke-width="1.3"/>
<line x1="585.3" y1="244.3" x2="594.0" y2="235.6" stroke="#1a1a1a" stroke-width="1.3"/>
</g>
<line x1="583" y1="244.5" x2="620.3" y2="244.5" stroke="#1a1a1a" stroke-width="1" />
<path d="M497.5,253 L497.8,300 C498.2,322 514,330 530,330 C546,330 562.4,322 562.8,300 L562.6,253" stroke="#1a1a1a" stroke-width="1.4" fill="none" />
<line x1="506.2" y1="253" x2="554.3" y2="253" stroke="#1a1a1a" stroke-width="2.2" />
<circle cx="514.4" cy="252" r="1.8" stroke="#1a1a1a" stroke-width="1" fill="#1a1a1a"/>
<circle cx="546.3" cy="252" r="1.8" stroke="#1a1a1a" stroke-width="1" fill="#1a1a1a"/>
<line x1="562.2" y1="253" x2="589.4" y2="253" stroke="#777" stroke-width="1" />
<line x1="562.2" y1="330" x2="620.3" y2="330" stroke="#1a1a1a" stroke-width="1" />
<line x1="583" y1="253.2" x2="583" y2="329.8" stroke="#1a1a1a" stroke-width="1" />
<polygon points="583,253.2 581.1,262.2 584.9,262.2" fill="#1a1a1a" stroke="none" stroke-width="1"/>
<polygon points="583,329.8 581.1,320.8 584.9,320.8" fill="#1a1a1a" stroke="none" stroke-width="1"/>
<rect x="569.907" y="282.71" width="26.186000000000003" height="17.98" fill="#fff"/>
<text x="583" y="296.89" font-size="14.5" text-anchor="middle" fill="#1a1a1a" >443</text>
<line x1="614.2" y1="244.6" x2="614.2" y2="329.8" stroke="#1a1a1a" stroke-width="1" />
<polygon points="614.2,244.6 612.3000000000001,253.6 616.1,253.6" fill="#1a1a1a" stroke="none" stroke-width="1"/>
<polygon points="614.2,329.8 612.3000000000001,320.8 616.1,320.8" fill="#1a1a1a" stroke="none" stroke-width="1"/>
<rect x="601.2738" y="279.73400000000004" width="25.852400000000003" height="17.732" fill="#fff"/>
<text x="614.2" y="293.72" font-size="14.3" text-anchor="middle" fill="#1a1a1a" >490</text>
<path d="M62.8,556.6 L62.8,432.5 L66.8,428.4 L68.2,428.4 L68.2,434.3 L70.3,434.3 L70.3,423.6 L78.1,423.6 L78.1,434.3 L79.6,434.3 L79.6,423.3 L177.5,423.3 L177.5,434.3 L179.7,434.3 L179.7,423.6 L186.2,423.6 L186.2,434.3 L188.4,434.3 L188.4,428.1 L190.5,428.1 L194.6,432 L194.6,550.7 L188,556.6 Z" stroke="#1a1a1a" stroke-width="1.2" fill="none" />
<rect x="71.3" y="424.6" width="5.8" height="2.6" rx="0" stroke="#1a1a1a" stroke-width="0" fill="#bbb" />
<rect x="180.7" y="424.6" width="4.5" height="2.6" rx="0" stroke="#1a1a1a" stroke-width="0" fill="#bbb" />
<path d="M86.6,559.5 L86.6,435.5 Q86.6,433.5 88.6,433.5 L169.4,433.5 Q171.4,433.5 171.4,435.5 L171.4,559.5 Z" stroke="#1a1a1a" stroke-width="1.3" fill="none" />
<line x1="86.6" y1="549.3" x2="171.4" y2="549.3" stroke="#1a1a1a" stroke-width="1.1" />
<line x1="95.2" y1="434.5" x2="103" y2="434.5" stroke="#1a1a1a" stroke-width="2" />
<line x1="154.4" y1="434.5" x2="162.2" y2="434.5" stroke="#1a1a1a" stroke-width="2" />
<line x1="99.6" y1="548.3" x2="107.8" y2="548.3" stroke="#1a1a1a" stroke-width="1.8" />
<line x1="149.5" y1="548.3" x2="157.2" y2="548.3" stroke="#1a1a1a" stroke-width="1.8" />
<rect x="114.4" y="440.2" width="13.6" height="24.6" rx="1.5" stroke="#1a1a1a" stroke-width="1.6" fill="#fff" />
<rect x="116.4" y="442.3" width="9.6" height="20.4" rx="0.5" stroke="#333" stroke-width="1" fill="#fff" />
<rect x="129.4" y="440.2" width="13.6" height="24.6" rx="1.5" stroke="#1a1a1a" stroke-width="1.6" fill="#fff" />
<rect x="131.4" y="442.3" width="9.6" height="20.4" rx="0.5" stroke="#333" stroke-width="1" fill="#fff" />
<path d="M86.6,450.7 L76.5,450.7 Q74.3,450.7 74.3,452.9 L74.3,456.1 Q74.3,458.3 76.5,458.3 L86.6,458.3" stroke="#1a1a1a" stroke-width="1.1" fill="none" />
<path d="M171.4,450.7 L181,450.7 Q183.2,450.7 183.2,452.9 L183.2,456.1 Q183.2,458.3 181,458.3 L171.4,458.3" stroke="#1a1a1a" stroke-width="1.1" fill="none" />
<path d="M86.6,468.7 L76.5,468.7 Q74.3,468.7 74.3,470.9 L74.3,474.1 Q74.3,476.3 76.5,476.3 L86.6,476.3" stroke="#1a1a1a" stroke-width="1.1" fill="none" />
<path d="M171.4,468.7 L181,468.7 Q183.2,468.7 183.2,470.9 L183.2,474.1 Q183.2,476.3 181,476.3 L171.4,476.3" stroke="#1a1a1a" stroke-width="1.1" fill="none" />
<path d="M86.6,487.59999999999997 L76.5,487.59999999999997 Q74.3,487.59999999999997 74.3,489.79999999999995 L74.3,493.0 Q74.3,495.2 76.5,495.2 L86.6,495.2" stroke="#1a1a1a" stroke-width="1.1" fill="none" />
<path d="M171.4,487.59999999999997 L181,487.59999999999997 Q183.2,487.59999999999997 183.2,489.79999999999995 L183.2,493.0 Q183.2,495.2 181,495.2 L171.4,495.2" stroke="#1a1a1a" stroke-width="1.1" fill="none" />
<path d="M86.6,505.8 L76.5,505.8 Q74.3,505.8 74.3,508.0 L74.3,511.20000000000005 Q74.3,513.4 76.5,513.4 L86.6,513.4" stroke="#1a1a1a" stroke-width="1.1" fill="none" />
<path d="M171.4,505.8 L181,505.8 Q183.2,505.8 183.2,508.0 L183.2,511.20000000000005 Q183.2,513.4 181,513.4 L171.4,513.4" stroke="#1a1a1a" stroke-width="1.1" fill="none" />
<path d="M86.6,524.3000000000001 L76.5,524.3000000000001 Q74.3,524.3000000000001 74.3,526.5 L74.3,529.7 Q74.3,531.9 76.5,531.9 L86.6,531.9" stroke="#1a1a1a" stroke-width="1.1" fill="none" />
<path d="M171.4,524.3000000000001 L181,524.3000000000001 Q183.2,524.3000000000001 183.2,526.5 L183.2,529.7 Q183.2,531.9 181,531.9 L171.4,531.9" stroke="#1a1a1a" stroke-width="1.1" fill="none" />
<line x1="86.6" y1="559.5" x2="86.6" y2="578.5" stroke="#1a1a1a" stroke-width="0.9" />
<line x1="171.4" y1="559.5" x2="171.4" y2="578.5" stroke="#1a1a1a" stroke-width="0.9" />
<line x1="86.6" y1="573.7" x2="114.6" y2="573.7" stroke="#1a1a1a" stroke-width="1" />
<polygon points="86.6,573.7 95.6,571.8000000000001 95.6,575.6" fill="#1a1a1a" stroke="none" stroke-width="1"/>
<line x1="142.7" y1="573.7" x2="171.4" y2="573.7" stroke="#1a1a1a" stroke-width="1" />
<polygon points="171.4,573.7 162.4,571.8000000000001 162.4,575.6" fill="#1a1a1a" stroke="none" stroke-width="1"/>
<text x="129" y="578.50" font-size="13.4" text-anchor="middle" fill="#1a1a1a" >115</text>
<line x1="219.3" y1="423" x2="219.3" y2="557.5" stroke="#1a1a1a" stroke-width="1.8" />
<line x1="218" y1="424" x2="221" y2="424" stroke="#1a1a1a" stroke-width="2.2" />
<line x1="216.3" y1="427" x2="219.3" y2="427" stroke="#1a1a1a" stroke-width="1.3" />
<path d="M219.3,549.3 L224.3,549.3 L224.3,558.6 L219.3,558.6" stroke="#1a1a1a" stroke-width="1.3" fill="none" />
<path d="M219.3,437.9 L213.6,437.9 Q212.6,437.9 212.8,439.4 L213.6,443.4 L215.2,443.4 L215.2,440.09999999999997 L219.3,440.09999999999997" stroke="#1a1a1a" stroke-width="1" fill="none" />
<path d="M219.3,492.1 L213.6,492.1 Q212.6,492.1 212.8,493.6 L213.6,497.6 L215.2,497.6 L215.2,494.3 L219.3,494.3" stroke="#1a1a1a" stroke-width="1" fill="none" />
<path d="M219.3,547.9 L213.6,547.9 Q212.6,547.9 212.8,549.4 L213.6,553.4 L215.2,553.4 L215.2,550.1 L219.3,550.1" stroke="#1a1a1a" stroke-width="1" fill="none" />
<line x1="219.3" y1="454" x2="227.9" y2="454" stroke="#1a1a1a" stroke-width="1.4" />
<line x1="227.9" y1="450.2" x2="227.9" y2="457.8" stroke="#1a1a1a" stroke-width="1.4" />
<line x1="219.3" y1="472.6" x2="227.9" y2="472.6" stroke="#1a1a1a" stroke-width="1.4" />
<line x1="227.9" y1="468.8" x2="227.9" y2="476.40000000000003" stroke="#1a1a1a" stroke-width="1.4" />
<line x1="219.3" y1="491.2" x2="227.9" y2="491.2" stroke="#1a1a1a" stroke-width="1.4" />
<line x1="227.9" y1="487.4" x2="227.9" y2="495.0" stroke="#1a1a1a" stroke-width="1.4" />
<line x1="219.3" y1="509.8" x2="227.9" y2="509.8" stroke="#1a1a1a" stroke-width="1.4" />
<line x1="227.9" y1="506.0" x2="227.9" y2="513.6" stroke="#1a1a1a" stroke-width="1.4" />
<line x1="219.3" y1="528.4" x2="227.9" y2="528.4" stroke="#1a1a1a" stroke-width="1.4" />
<line x1="227.9" y1="524.6" x2="227.9" y2="532.1999999999999" stroke="#1a1a1a" stroke-width="1.4" />
<line x1="219.3" y1="433.1" x2="305.7" y2="433.1" stroke="#1a1a1a" stroke-width="1.1" />
<line x1="224.3" y1="549.1" x2="305.7" y2="549.1" stroke="#1a1a1a" stroke-width="1.1" />
<line x1="236.9" y1="435.7" x2="285.4" y2="435.7" stroke="#999" stroke-width="1" />
<line x1="236.9" y1="546.8" x2="285.4" y2="546.8" stroke="#999" stroke-width="1" />
<rect x="228.6" y="434.8" width="2.2" height="4.8" rx="1.1" stroke="#555" stroke-width="0.6" fill="#aaa" />
<rect x="228.6" y="542.2" width="2.2" height="4.8" rx="1.1" stroke="#555" stroke-width="0.6" fill="#aaa" />
<line x1="229.6" y1="531" x2="229.6" y2="542" stroke="#999" stroke-width="0.6" stroke-dasharray="1.5,1.5"/>
<line x1="236.9" y1="433.1" x2="236.9" y2="549.1" stroke="#1a1a1a" stroke-width="1.25" />
<line x1="242.7" y1="433.1" x2="242.7" y2="549.1" stroke="#1a1a1a" stroke-width="1.25" />
<line x1="248.8" y1="433.1" x2="248.8" y2="549.1" stroke="#1a1a1a" stroke-width="1.25" />
<line x1="255" y1="433.1" x2="255" y2="549.1" stroke="#1a1a1a" stroke-width="1.25" />
<line x1="260.9" y1="433.1" x2="260.9" y2="549.1" stroke="#1a1a1a" stroke-width="1.25" />
<line x1="266.9" y1="433.1" x2="266.9" y2="549.1" stroke="#1a1a1a" stroke-width="1.25" />
<line x1="273" y1="433.1" x2="273" y2="549.1" stroke="#1a1a1a" stroke-width="1.25" />
<line x1="278.9" y1="433.1" x2="278.9" y2="549.1" stroke="#1a1a1a" stroke-width="1.25" />
<line x1="285.4" y1="433.1" x2="285.4" y2="549.1" stroke="#1a1a1a" stroke-width="1.25" />
<line x1="300.6" y1="433.6" x2="300.6" y2="549.2" stroke="#1a1a1a" stroke-width="1" />
<polygon points="300.6,433.6 298.70000000000005,442.6 302.5,442.6" fill="#1a1a1a" stroke="none" stroke-width="1"/>
<polygon points="300.6,549.2 298.70000000000005,540.2 302.5,540.2" fill="#1a1a1a" stroke="none" stroke-width="1"/>
<rect x="289.0916" y="483.58799999999997" width="23.0168" height="15.623999999999999" fill="#fff"/>
<text x="300.6" y="495.91" font-size="12.6" text-anchor="middle" fill="#1a1a1a" >157</text>
<line x1="229.6" y1="547" x2="229.6" y2="581" stroke="#1a1a1a" stroke-width="0.9" />
<line x1="285.4" y1="549.1" x2="285.4" y2="581" stroke="#888" stroke-width="0.9" />
<line x1="229.6" y1="574.3" x2="249" y2="574.3" stroke="#1a1a1a" stroke-width="1" />
<polygon points="229.6,574.3 238.6,572.4 238.6,576.1999999999999" fill="#1a1a1a" stroke="none" stroke-width="1"/>
<line x1="265.5" y1="574.3" x2="285.4" y2="574.3" stroke="#1a1a1a" stroke-width="1" />
<polygon points="285.4,574.3 276.4,572.4 276.4,576.1999999999999" fill="#1a1a1a" stroke="none" stroke-width="1"/>
<text x="257.6" y="578.91" font-size="12.6" text-anchor="middle" fill="#1a1a1a" >77</text>
<rect x="566.4" y="437.4" width="106.8" height="141.1" rx="0" stroke="#1a1a1a" stroke-width="1.3" fill="none" />
<line x1="566.4" y1="410" x2="566.4" y2="434.5" stroke="#1a1a1a" stroke-width="0.9" />
<line x1="673.2" y1="410" x2="673.2" y2="434.5" stroke="#1a1a1a" stroke-width="0.9" />
<line x1="566.5" y1="417.5" x2="606" y2="417.5" stroke="#1a1a1a" stroke-width="1" />
<polygon points="566.5,417.5 575.5,415.6 575.5,419.4" fill="#1a1a1a" stroke="none" stroke-width="1"/>
<line x1="634" y1="417.5" x2="673.1" y2="417.5" stroke="#1a1a1a" stroke-width="1" />
<polygon points="673.1,417.5 664.1,415.6 664.1,419.4" fill="#1a1a1a" stroke="none" stroke-width="1"/>
<text x="619.9" y="422.71" font-size="14" text-anchor="middle" fill="#1a1a1a" >130</text>
<line x1="540.3" y1="437.4" x2="566.4" y2="437.4" stroke="#1a1a1a" stroke-width="0.9" />
<line x1="540.3" y1="578.5" x2="566.4" y2="578.5" stroke="#1a1a1a" stroke-width="0.9" />
<line x1="545.5" y1="437.6" x2="545.5" y2="578.3" stroke="#1a1a1a" stroke-width="1" />
<polygon points="545.5,437.6 543.6,446.6 547.4,446.6" fill="#1a1a1a" stroke="none" stroke-width="1"/>
<polygon points="545.5,578.3 543.6,569.3 547.4,569.3" fill="#1a1a1a" stroke="none" stroke-width="1"/>
<rect x="533.941" y="500.03" width="24.518" height="16.74" fill="#fff"/>
<text x="546.2" y="513.23" font-size="13.5" text-anchor="middle" fill="#1a1a1a" >172</text>
<rect x="593.3" y="460.1" width="52" height="95.8" rx="26" stroke="#555" stroke-width="1" fill="none" />
<rect x="594.6" y="461.5" width="49.4" height="93" rx="24.7" stroke="#bbb" stroke-width="0.6" fill="none" />
<rect x="597" y="464.7" width="44.6" height="86.7" rx="22.3" stroke="#111" stroke-width="1.9" fill="none" />
<line x1="597.5" y1="491.7" x2="641" y2="491.7" stroke="#111" stroke-width="1.5" />
<rect x="615.2" y="539.3" width="8.6" height="2.6" rx="1.3" stroke="#1a1a1a" stroke-width="0" fill="#111" />
<line x1="746.6" y1="412.4" x2="746.6" y2="612.5" stroke="#1a1a1a" stroke-width="1" />
<line x1="751.1" y1="412.4" x2="751.1" y2="612.5" stroke="#1a1a1a" stroke-width="1" />
<g clip-path="url(#c585)"><clipPath id="c585"><rect x="736.6" y="425.4" width="9.799999999999955" height="162.39999999999998"/></clipPath>
<line x1="574.2" y1="587.8" x2="736.6" y2="425.4" stroke="#1a1a1a" stroke-width="1.3"/>
<line x1="581.4" y1="587.8" x2="743.8" y2="425.4" stroke="#1a1a1a" stroke-width="1.3"/>
<line x1="588.6" y1="587.8" x2="751.0" y2="425.4" stroke="#1a1a1a" stroke-width="1.3"/>
<line x1="595.8" y1="587.8" x2="758.2" y2="425.4" stroke="#1a1a1a" stroke-width="1.3"/>
<line x1="603.0" y1="587.8" x2="765.4" y2="425.4" stroke="#1a1a1a" stroke-width="1.3"/>
<line x1="610.2" y1="587.8" x2="772.6" y2="425.4" stroke="#1a1a1a" stroke-width="1.3"/>
<line x1="617.4" y1="587.8" x2="779.8" y2="425.4" stroke="#1a1a1a" stroke-width="1.3"/>
<line x1="624.6" y1="587.8" x2="787.0" y2="425.4" stroke="#1a1a1a" stroke-width="1.3"/>
<line x1="631.8" y1="587.8" x2="794.2" y2="425.4" stroke="#1a1a1a" stroke-width="1.3"/>
<line x1="639.0" y1="587.8" x2="801.4" y2="425.4" stroke="#1a1a1a" stroke-width="1.3"/>
<line x1="646.2" y1="587.8" x2="808.6" y2="425.4" stroke="#1a1a1a" stroke-width="1.3"/>
<line x1="653.4" y1="587.8" x2="815.8" y2="425.4" stroke="#1a1a1a" stroke-width="1.3"/>
<line x1="660.6" y1="587.8" x2="823.0" y2="425.4" stroke="#1a1a1a" stroke-width="1.3"/>
<line x1="667.8" y1="587.8" x2="830.2" y2="425.4" stroke="#1a1a1a" stroke-width="1.3"/>
<line x1="675.0" y1="587.8" x2="837.4" y2="425.4" stroke="#1a1a1a" stroke-width="1.3"/>
<line x1="682.2" y1="587.8" x2="844.6" y2="425.4" stroke="#1a1a1a" stroke-width="1.3"/>
<line x1="689.4" y1="587.8" x2="851.8" y2="425.4" stroke="#1a1a1a" stroke-width="1.3"/>
<line x1="696.6" y1="587.8" x2="859.0" y2="425.4" stroke="#1a1a1a" stroke-width="1.3"/>
<line x1="703.8" y1="587.8" x2="866.2" y2="425.4" stroke="#1a1a1a" stroke-width="1.3"/>
<line x1="711.0" y1="587.8" x2="873.4" y2="425.4" stroke="#1a1a1a" stroke-width="1.3"/>
<line x1="718.2" y1="587.8" x2="880.6" y2="425.4" stroke="#1a1a1a" stroke-width="1.3"/>
<line x1="725.4" y1="587.8" x2="887.8" y2="425.4" stroke="#1a1a1a" stroke-width="1.3"/>
<line x1="732.6" y1="587.8" x2="895.0" y2="425.4" stroke="#1a1a1a" stroke-width="1.3"/>
<line x1="739.8" y1="587.8" x2="902.2" y2="425.4" stroke="#1a1a1a" stroke-width="1.3"/>
<line x1="747.0" y1="587.8" x2="909.4" y2="425.4" stroke="#1a1a1a" stroke-width="1.3"/>
<line x1="754.2" y1="587.8" x2="916.6" y2="425.4" stroke="#1a1a1a" stroke-width="1.3"/>
<line x1="761.4" y1="587.8" x2="923.8" y2="425.4" stroke="#1a1a1a" stroke-width="1.3"/>
<line x1="768.6" y1="587.8" x2="931.0" y2="425.4" stroke="#1a1a1a" stroke-width="1.3"/>
<line x1="775.8" y1="587.8" x2="938.2" y2="425.4" stroke="#1a1a1a" stroke-width="1.3"/>
<line x1="783.0" y1="587.8" x2="945.4" y2="425.4" stroke="#1a1a1a" stroke-width="1.3"/>
<line x1="790.2" y1="587.8" x2="952.6" y2="425.4" stroke="#1a1a1a" stroke-width="1.3"/>
<line x1="797.4" y1="587.8" x2="959.8" y2="425.4" stroke="#1a1a1a" stroke-width="1.3"/>
<line x1="804.6" y1="587.8" x2="967.0" y2="425.4" stroke="#1a1a1a" stroke-width="1.3"/>
<line x1="811.8" y1="587.8" x2="974.2" y2="425.4" stroke="#1a1a1a" stroke-width="1.3"/>
<line x1="819.0" y1="587.8" x2="981.4" y2="425.4" stroke="#1a1a1a" stroke-width="1.3"/>
<line x1="826.2" y1="587.8" x2="988.6" y2="425.4" stroke="#1a1a1a" stroke-width="1.3"/>
<line x1="833.4" y1="587.8" x2="995.8" y2="425.4" stroke="#1a1a1a" stroke-width="1.3"/>
<line x1="840.6" y1="587.8" x2="1003.0" y2="425.4" stroke="#1a1a1a" stroke-width="1.3"/>
<line x1="847.8" y1="587.8" x2="1010.2" y2="425.4" stroke="#1a1a1a" stroke-width="1.3"/>
<line x1="855.0" y1="587.8" x2="1017.4" y2="425.4" stroke="#1a1a1a" stroke-width="1.3"/>
<line x1="862.2" y1="587.8" x2="1024.6" y2="425.4" stroke="#1a1a1a" stroke-width="1.3"/>
<line x1="869.4" y1="587.8" x2="1031.8" y2="425.4" stroke="#1a1a1a" stroke-width="1.3"/>
<line x1="876.6" y1="587.8" x2="1039.0" y2="425.4" stroke="#1a1a1a" stroke-width="1.3"/>
<line x1="883.8" y1="587.8" x2="1046.2" y2="425.4" stroke="#1a1a1a" stroke-width="1.3"/>
<line x1="891.0" y1="587.8" x2="1053.4" y2="425.4" stroke="#1a1a1a" stroke-width="1.3"/>
<line x1="898.2" y1="587.8" x2="1060.6" y2="425.4" stroke="#1a1a1a" stroke-width="1.3"/>
<line x1="905.4" y1="587.8" x2="1067.8" y2="425.4" stroke="#1a1a1a" stroke-width="1.3"/>
</g>
<rect x="746.9" y="437.3" width="4.2" height="140.8" rx="0" stroke="#1a1a1a" stroke-width="1.2" fill="#fff" />
<line x1="751" y1="437.3" x2="751" y2="578.1" stroke="#1a1a1a" stroke-width="1.8" />
<text x="727.3" y="415.33" font-size="13.5" text-anchor="middle" fill="#1a1a1a" >5</text>
<line x1="719.9" y1="416.9" x2="746.7" y2="416.9" stroke="#1a1a1a" stroke-width="1" />
<polygon points="746.7,416.9 737.7,415.0 737.7,418.79999999999995" fill="#1a1a1a" stroke="none" stroke-width="1"/>
<line x1="750.8" y1="416.9" x2="770.2" y2="416.9" stroke="#1a1a1a" stroke-width="1" />
<polygon points="750.8,416.9 759.8,415.0 759.8,418.79999999999995" fill="#1a1a1a" stroke="none" stroke-width="1"/>
<text x="728.4" y="605.63" font-size="13.5" text-anchor="middle" fill="#1a1a1a" >6</text>
<line x1="719.9" y1="607.2" x2="746.7" y2="607.2" stroke="#1a1a1a" stroke-width="1" />
<polygon points="746.7,607.2 737.7,605.3000000000001 737.7,609.1" fill="#1a1a1a" stroke="none" stroke-width="1"/>
<line x1="750.8" y1="607.2" x2="770.2" y2="607.2" stroke="#1a1a1a" stroke-width="1" />
<polygon points="750.8,607.2 759.8,605.3000000000001 759.8,609.1" fill="#1a1a1a" stroke="none" stroke-width="1"/>
</svg>
</body></html>
